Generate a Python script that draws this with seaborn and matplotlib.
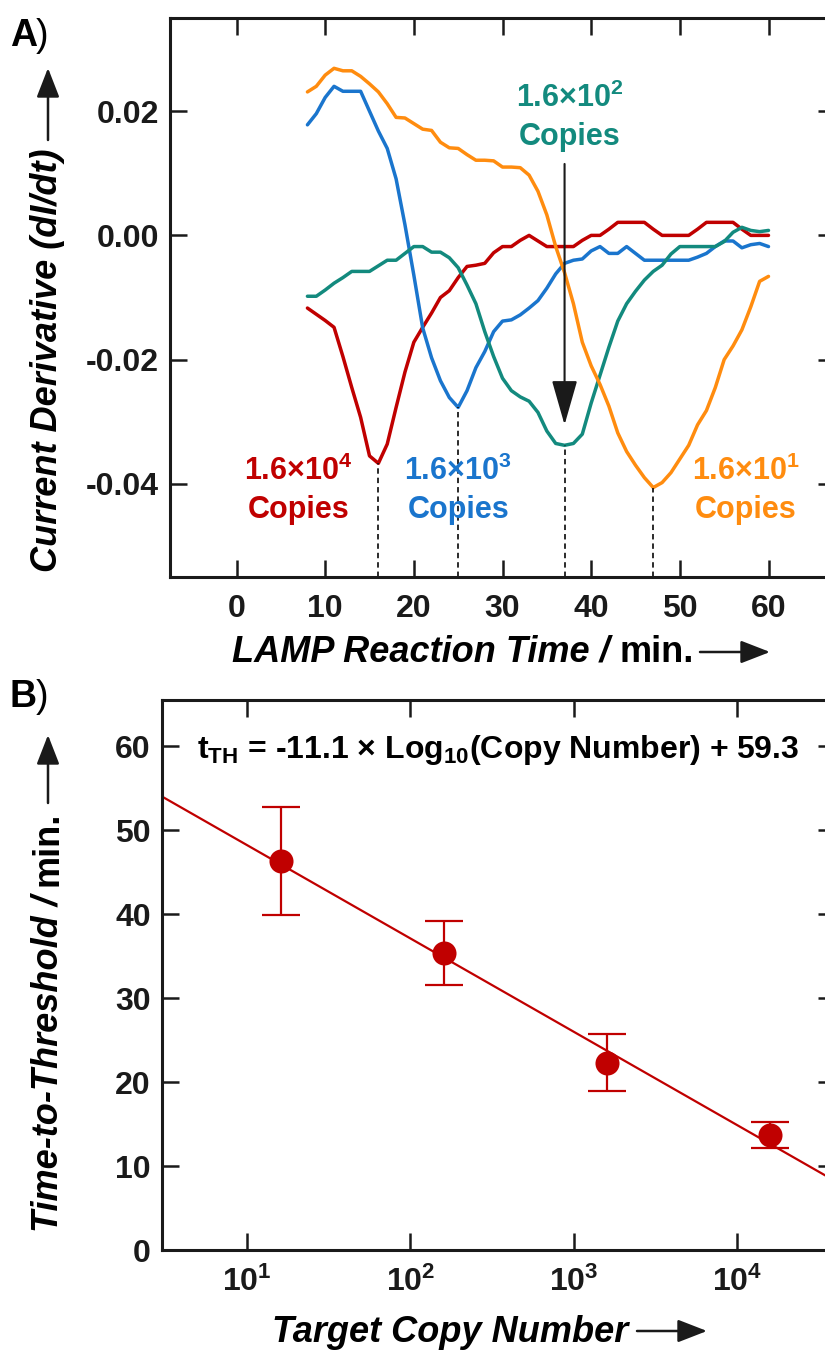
"""LAMP derivative curves (A) and time-to-threshold calibration (B)"""

import matplotlib
matplotlib.use('Agg')
import matplotlib.pyplot as plt
import matplotlib.ticker as mticker
import numpy as np
import pandas as pd
import seaborn as sns

# --------------------------------------------------------------------------- #
# Data
time_min = list(range(8, 61))

red_16e4 = [-0.0117, -0.0127, -0.0137, -0.0148, -0.0195, -0.0245, -0.0293, -0.0355,
            -0.0367, -0.0336, -0.0277, -0.0220, -0.0172, -0.0148, -0.0125, -0.0100,
            -0.0089, -0.0068, -0.0050, -0.0048, -0.0045, -0.0028, -0.0018, -0.0018,
            -0.0008, 0.0, -0.0009, -0.0018, -0.0018, -0.0018, -0.0018, -0.0008,
            0.0, 0.0, 0.0010, 0.0021, 0.0021, 0.0021, 0.0021, 0.0010, 0.0, 0.0,
            0.0, 0.0, 0.0010, 0.0021, 0.0021, 0.0021, 0.0021, 0.0010, 0.0, 0.0, 0.0]
blue_16e3 = [0.0178, 0.0196, 0.0222, 0.0240, 0.0232, 0.0232, 0.0232, 0.0200,
             0.0168, 0.0140, 0.0091, 0.0017, -0.0064, -0.0149, -0.0197, -0.0234,
             -0.0261, -0.0277, -0.0250, -0.0213, -0.0187, -0.0155, -0.0138, -0.0136,
             -0.0128, -0.0117, -0.0105, -0.0085, -0.0062, -0.0045, -0.0040, -0.0038,
             -0.0025, -0.0018, -0.0029, -0.0029, -0.0018, -0.0029, -0.0040, -0.0040,
             -0.0040, -0.0040, -0.0040, -0.0040, -0.0035, -0.0029, -0.0018, -0.0009,
             -0.0009, -0.0020, -0.0015, -0.0013, -0.0018]
teal_16e2 = [-0.0098, -0.0098, -0.0088, -0.0077, -0.0068, -0.0058, -0.0058, -0.0058,
             -0.0049, -0.0040, -0.0040, -0.0029, -0.0018, -0.0018, -0.0027, -0.0027,
             -0.0036, -0.0052, -0.0080, -0.0110, -0.0155, -0.0195, -0.0230, -0.0250,
             -0.0260, -0.0267, -0.0285, -0.0315, -0.0335, -0.0338, -0.0335, -0.0320,
             -0.0270, -0.0225, -0.0180, -0.0138, -0.0110, -0.0090, -0.0072, -0.0058,
             -0.0048, -0.0030, -0.0018, -0.0018, -0.0018, -0.0018, -0.0018, -0.0010,
             0.0005, 0.0013, 0.0008, 0.0006, 0.0008]
orange_16e1 = [0.0231, 0.0240, 0.0258, 0.0269, 0.0265, 0.0265, 0.0256, 0.0244,
               0.0231, 0.0212, 0.0190, 0.0189, 0.0180, 0.0171, 0.0169, 0.0150,
               0.0141, 0.0140, 0.0130, 0.0121, 0.0121, 0.0120, 0.0110, 0.0110,
               0.0109, 0.0097, 0.0071, 0.0033, -0.0018, -0.0060, -0.0110, -0.0172,
               -0.0210, -0.0240, -0.0275, -0.0318, -0.0348, -0.0370, -0.0390, -0.0406,
               -0.0398, -0.0382, -0.0360, -0.0338, -0.0305, -0.0282, -0.0245, -0.0200,
               -0.0178, -0.0152, -0.0115, -0.0074, -0.0066]

sample_names = ['1.6e4', '1.6e3', '1.6e2', '1.6e1']
sample_colors = ['#C00000', '#1A75CD', '#138A7E', '#FF8C0F']
sample_labels = ['1.6×10$^{\\mathbf{4}}$\nCopies', '1.6×10$^{\\mathbf{3}}$\nCopies',
                 '1.6×10$^{\\mathbf{2}}$\nCopies', '1.6×10$^{\\mathbf{1}}$\nCopies']
label_x = [7.0, 25.0, 37.6, 57.4]
label_y = [-0.041, -0.041, 0.019, -0.041]

copies = [16, 160, 1600, 16000]
tth = [46.3, 35.4, 22.3, 13.7]
tth_err = [6.4, 3.8, 3.4, 1.5]
fit_slope = -11.1
fit_intercept = 59.3
decade_ticks = [10, 100, 1000, 10000]
decade_labels = ['10$^{\\mathbf{1}}$', '10$^{\\mathbf{2}}$', '10$^{\\mathbf{3}}$', '10$^{\\mathbf{4}}$']

W, H = 825, 1353


def fig_px(x, y):
    return (x / W, 1 - y / H)


# --------------------------------------------------------------------------- #
sns.set_theme(style='ticks')
plt.rcParams['font.family'] = ['Liberation Sans', 'DejaVu Sans']
plt.rcParams['font.weight'] = 'bold'
plt.rcParams['text.color'] = 'black'
plt.rcParams['xtick.color'] = 'black'
plt.rcParams['ytick.color'] = 'black'
plt.rcParams['axes.labelcolor'] = 'black'
plt.rcParams['mathtext.fontset'] = 'custom'
plt.rcParams['mathtext.rm'] = 'Liberation Sans:bold'
plt.rcParams['mathtext.bf'] = 'Liberation Sans:bold'
plt.rcParams['mathtext.it'] = 'Liberation Sans:italic:bold'

fig = plt.figure(figsize=(W / 100, H / 100), dpi=100)
ax_a = fig.add_axes([170 / W, 1 - 577 / H, 665 / W, 559 / H])
ax_b = fig.add_axes([162 / W, 1 - 1250 / H, 673 / W, 550 / H])

# --------------------------------------------------------------------------- #
# Panel A
series = [red_16e4, blue_16e3, teal_16e2, orange_16e1]
df = pd.concat([pd.DataFrame({'time': time_min, 'deriv': vals, 'sample': name})
                for name, vals in zip(sample_names, series)])
sns.lineplot(data=df, x='time', y='deriv', hue='sample', hue_order=sample_names,
             palette=sample_colors, lw=2.5, legend=False, ax=ax_a)

ax_a.set_xlim(-7.5, 67.5)
ax_a.set_ylim(-0.055, 0.035)
y_bottom = ax_a.get_ylim()[0]

# dashed drop lines from each minimum
for vals in series:
    i = int(np.argmin(vals))
    ax_a.vlines(time_min[i], y_bottom, vals[i], colors='k', linestyles=(0, (3, 2.2)), lw=1.3)

for txt, x, y, c in zip(sample_labels, label_x, label_y, sample_colors):
    ax_a.text(x, y, txt, color=c, fontsize=22, fontweight='bold', ha='center',
              va='center', linespacing=1.35)

ax_a.annotate('', xy=(37, -0.0305), xytext=(37, 0.0115),
              arrowprops=dict(arrowstyle='-|>,head_length=1.4,head_width=0.4',
                              color='k', lw=1.5, mutation_scale=20, shrinkA=0, shrinkB=0))

ax_a.set_xticks(range(0, 61, 10))
ax_a.set_yticks([-0.04, -0.02, 0.0, 0.02])
ax_a.yaxis.set_major_formatter(mticker.FormatStrFormatter('%.2f'))
ax_a.set_xlabel('')
ax_a.set_ylabel('')

# --------------------------------------------------------------------------- #
# Panel B
ax_b.set_xscale('log')
ax_b.set_xlim(3, 4e4)
ax_b.set_ylim(0, 65.5)
fit_x = np.array(ax_b.get_xlim())
sns.lineplot(x=fit_x, y=fit_slope * np.log10(fit_x) + fit_intercept,
             color='#C00000', lw=1.6, ax=ax_b)
ax_b.errorbar(copies, tth, yerr=tth_err, fmt='none', ecolor='#C00000',
              elinewidth=1.6, capsize=14, capthick=1.6)
sns.scatterplot(x=copies, y=tth, color='#C00000', s=300, edgecolor='#C00000',
                linewidth=0, zorder=5, ax=ax_b)

ax_b.set_xticks(decade_ticks, labels=decade_labels)
ax_b.xaxis.set_minor_locator(mticker.NullLocator())
ax_b.set_yticks(range(0, 61, 10))
ax_b.text(0.50, 59.6, r'$\mathbf{t_{TH}}$ = -11.1 × Log$_{\mathbf{10}}$(Copy Number) + 59.3',
          transform=ax_b.get_yaxis_transform(), fontsize=23, fontweight='bold',
          ha='center', va='center')

# --------------------------------------------------------------------------- #
# Common styling
for ax in (ax_a, ax_b):
    for sp in ax.spines.values():
        sp.set_linewidth(2.2)
        sp.set_color('k')
    ax.tick_params(direction='in', length=12, width=1.8, top=True, right=True,
                   labelsize=23, color='k', labelcolor='k')
    ax.tick_params(axis='y', pad=8)
    ax.tick_params(axis='x', pad=12)
    for lab in ax.get_xticklabels() + ax.get_yticklabels():
        lab.set_fontweight('bold')

# axis titles (italic part + upright unit) with arrows
title_kw = dict(fontsize=26, fontweight='bold', rotation_mode='anchor')
fig.text(*fig_px(610, 652), 'LAMP Reaction Time /', style='italic', ha='right',
         va='center', **title_kw)
fig.text(*fig_px(620, 652), 'min.', ha='left', va='center', **title_kw)
fig.text(*fig_px(48, 360), 'Current Derivative (dI/dt)', style='italic',
         rotation=90, ha='center', va='center', **title_kw)
fig.text(*fig_px(450, 1333), 'Target Copy Number', style='italic',
         ha='center', va='center', **title_kw)
fig.text(*fig_px(48, 895), 'Time-to-Threshold /', style='italic', rotation=90,
         ha='right', va='center', **title_kw)
fig.text(*fig_px(48, 886), 'min.', rotation=90, ha='left', va='center', **title_kw)

arrow_kw = dict(arrowstyle='-|>,head_length=0.9,head_width=0.35', color='k', lw=1.8,
                mutation_scale=20, shrinkA=0, shrinkB=0)
for start, end in [((700, 652), (770, 652)), ((637, 1331), (707, 1331)),
                   ((48, 140), (48, 68)), ((48, 803), (48, 735))]:
    fig.add_artist(matplotlib.patches.FancyArrowPatch(fig_px(*start), fig_px(*end),
                                                      transform=fig.transFigure, **arrow_kw))

# panel letters
fig.text(*fig_px(10, 36), 'A', fontsize=27, fontweight='bold', va='center')
fig.text(*fig_px(36, 36), ')', fontsize=27, fontweight='normal', va='center')
fig.text(*fig_px(10, 697), 'B', fontsize=27, fontweight='bold', va='center')
fig.text(*fig_px(36, 697), ')', fontsize=27, fontweight='normal', va='center')

fig.savefig('out.png', dpi=100)
